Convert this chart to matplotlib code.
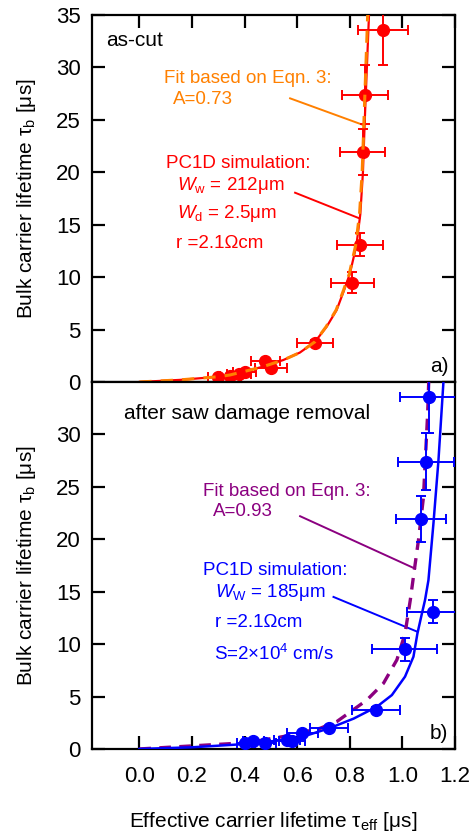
import matplotlib
matplotlib.use('Agg')
import matplotlib.pyplot as plt

plt.rcParams['font.family'] = ['Liberation Sans', 'DejaVu Sans']
plt.rcParams['mathtext.fontset'] = 'custom'
plt.rcParams['mathtext.rm'] = 'Liberation Sans'
plt.rcParams['mathtext.it'] = 'Liberation Sans:italic'

# panel a) as-cut: measured points
cut_tau_eff = [0.30, 0.345, 0.38, 0.40, 0.478, 0.50, 0.668, 0.81, 0.839, 0.849, 0.858, 0.928]
cut_tau_b = [0.5, 0.6, 0.8, 0.98, 2.0, 1.3, 3.69, 9.47, 13.1, 21.9, 27.4, 33.6]
cut_xerr = [0.04, 0.04, 0.045, 0.045, 0.055, 0.06, 0.07, 0.082, 0.086, 0.086, 0.089, 0.095]
cut_yerr = [0.1, 0.1, 0.1, 0.15, 0.2, 0.2, 0.3, 1.0, 1.1, 2.2, 2.8, 3.4]

# panel a) curves
cut_sim_x = [0, 0.155, 0.30, 0.345, 0.421, 0.47, 0.548, 0.61, 0.668, 0.712, 0.75, 0.776,
             0.80, 0.825, 0.84, 0.85, 0.857, 0.865, 0.873]
cut_sim_y = [0, 0.2, 0.5, 0.67, 1.14, 1.46, 2.1, 2.8, 3.84, 5.27, 6.86, 8.6,
             10.3, 13.0, 16.0, 20.0, 25.0, 30.0, 35.0]
cut_fit_x = [0, 0.155, 0.30, 0.345, 0.421, 0.47, 0.548, 0.61, 0.668, 0.71, 0.748, 0.774,
             0.798, 0.822, 0.837, 0.847, 0.854, 0.861, 0.868]
cut_fit_y = [0, 0.2, 0.5, 0.67, 1.14, 1.46, 2.1, 2.8, 3.84, 5.27, 6.86, 8.6,
             10.3, 13.0, 16.0, 20.0, 25.0, 30.0, 35.0]

# panel b) after saw damage removal: measured points
sdr_tau_eff = [0.40, 0.433, 0.478, 0.56, 0.58, 0.62, 0.721, 0.899, 1.008, 1.118, 1.07, 1.09, 1.10]
sdr_tau_b = [0.55, 0.8, 0.6, 0.86, 0.8, 1.5, 1.97, 3.7, 9.5, 13.08, 21.9, 27.4, 33.55]
sdr_xerr = [0.03, 0.04, 0.04, 0.05, 0.05, 0.06, 0.073, 0.092, 0.122, 0.10, 0.096, 0.105, 0.108]
sdr_yerr = [0.1, 0.1, 0.1, 0.1, 0.1, 0.15, 0.2, 0.3, 1.1, 1.1, 2.2, 2.75, 3.4]

# panel b) curves
sdr_sim_x = [0, 0.2, 0.41, 0.60, 0.725, 0.815, 0.903, 0.96, 1.01, 1.042, 1.057, 1.074,
             1.086, 1.099, 1.118, 1.137, 1.156]
sdr_sim_y = [0, 0.16, 0.48, 1.0, 2.0, 2.9, 4.03, 5.14, 6.9, 8.8, 11.0, 12.9,
             14.2, 16.1, 21.5, 27.5, 35.0]
sdr_fit_x = [0, 0.41, 0.56, 0.687, 0.75, 0.865, 0.928, 0.979, 1.01, 1.03, 1.045, 1.061,
             1.08, 1.096, 1.10]
sdr_fit_y = [0, 0.6, 1.24, 1.97, 2.6, 4.67, 6.26, 8.5, 11.0, 14.2, 17.0, 19.9,
             24.0, 32.0, 35.0]

# leader lines of the annotations
cut_fit_leader = ([0.573, 0.852], [27.05, 24.5])
cut_sim_leader = ([0.592, 0.837], [18.05, 15.6])
sdr_fit_leader = ([0.611, 1.048], [22.2, 17.2])
sdr_sim_leader = ([0.738, 1.055], [14.5, 11.2])

red = '#ff0000'
orange = '#ff8000'
blue = '#0000ff'
purple = '#8b0080'

fig = plt.figure(figsize=(4.76, 8.32), dpi=100)
ax_a = fig.add_axes([0.1933, 0.5409, 0.7626, 0.4411])
ax_b = fig.add_axes([0.1933, 0.0998, 0.7626, 0.4411])

for ax in (ax_a, ax_b):
    ax.set_xlim(-0.18, 1.2)
    ax.set_ylim(0, 35)
    ax.set_xticks([0.0, 0.2, 0.4, 0.6, 0.8, 1.0, 1.2])
    ax.set_yticks([0, 5, 10, 15, 20, 25, 30, 35])
    for s in ax.spines.values():
        s.set_linewidth(1.6)
    ax.tick_params(direction='in', length=9.5, width=1.6, labelsize=16)
    ax.tick_params(axis='y', pad=8, left=True, right=True)
    ax.set_ylabel('Bulk carrier lifetime τ$_\\mathrm{b}$ [μs]', fontsize=15, labelpad=13)

ax_a.tick_params(axis='x', top=True, bottom=False, labelbottom=False)
ax_b.tick_params(axis='x', top=False, bottom=True, pad=12)
ax_b.set_yticks([0, 5, 10, 15, 20, 25, 30])
ax_b.set_xticklabels(['0.0', '0.2', '0.4', '0.6', '0.8', '1.0', '1.2'])
ax_b.set_xlabel('Effective carrier lifetime τ$_\\mathrm{eff}$ [μs]', fontsize=15, labelpad=17)

# panel a)
ax_a.plot(cut_sim_x, cut_sim_y, color=red, lw=1.6, zorder=3)
ax_a.errorbar(cut_tau_eff, cut_tau_b, xerr=cut_xerr, yerr=cut_yerr, fmt='o', color=red,
              ms=8.5, elinewidth=1.4, capsize=3.5, capthick=1.4, zorder=4)
ax_a.plot(cut_fit_x, cut_fit_y, color=orange, lw=2.2, ls=(0, (4, 3)), zorder=5)
ax_a.plot(*cut_fit_leader, color=orange, lw=1.4)
ax_a.plot(*cut_sim_leader, color=red, lw=1.4)

ax_a.text(-0.127, 32.6, 'as-cut', fontsize=15, va='center')
ax_a.text(0.094, 28.95, 'Fit based on Eqn. 3:', color=orange, fontsize=13.5, va='center')
ax_a.text(0.127, 26.9, 'A=0.73', color=orange, fontsize=13.5, va='center')
ax_a.text(0.10, 20.8, 'PC1D simulation:', color=red, fontsize=13.5, va='center')
ax_a.text(0.142, 18.7, '$W_\\mathrm{w}$ = 212μm', color=red, fontsize=13.5, va='center')
ax_a.text(0.142, 16.1, '$W_\\mathrm{d}$ = 2.5μm', color=red, fontsize=13.5, va='center')
ax_a.text(0.138, 13.2, 'r =2.1Ωcm', color=red, fontsize=13.5, va='center')
ax_a.text(1.175, 1.5, 'a)', fontsize=15, ha='right', va='center')

# panel b)
ax_b.plot(sdr_fit_x, sdr_fit_y, color=purple, lw=2.4, ls=(0, (3.5, 2.5)), zorder=3)
ax_b.plot(sdr_sim_x, sdr_sim_y, color=blue, lw=1.8, zorder=4)
ax_b.errorbar(sdr_tau_eff, sdr_tau_b, xerr=sdr_xerr, yerr=sdr_yerr, fmt='o', color=blue,
              ms=8.5, elinewidth=1.4, capsize=3.5, capthick=1.4, zorder=5)
ax_b.plot(*sdr_fit_leader, color=purple, lw=1.4)
ax_b.plot(*sdr_sim_leader, color=blue, lw=1.4)

ax_b.text(-0.058, 32.0, 'after saw damage removal', fontsize=15, va='center')
ax_b.text(0.243, 24.6, 'Fit based on Eqn. 3:', color=purple, fontsize=13.5, va='center')
ax_b.text(0.281, 22.6, 'A=0.93', color=purple, fontsize=13.5, va='center')
ax_b.text(0.243, 17.05, 'PC1D simulation:', color=blue, fontsize=13.5, va='center')
ax_b.text(0.288, 14.9, '$W_\\mathrm{W}$ = 185μm', color=blue, fontsize=13.5, va='center')
ax_b.text(0.288, 12.1, 'r =2.1Ωcm', color=blue, fontsize=13.5, va='center')
ax_b.text(0.285, 9.1, 'S=2×10$^4$ cm/s', color=blue, fontsize=13.5, va='center')
ax_b.text(1.175, 1.5, 'b)', fontsize=15, ha='right', va='center')

fig.savefig('out.png', dpi=100)
